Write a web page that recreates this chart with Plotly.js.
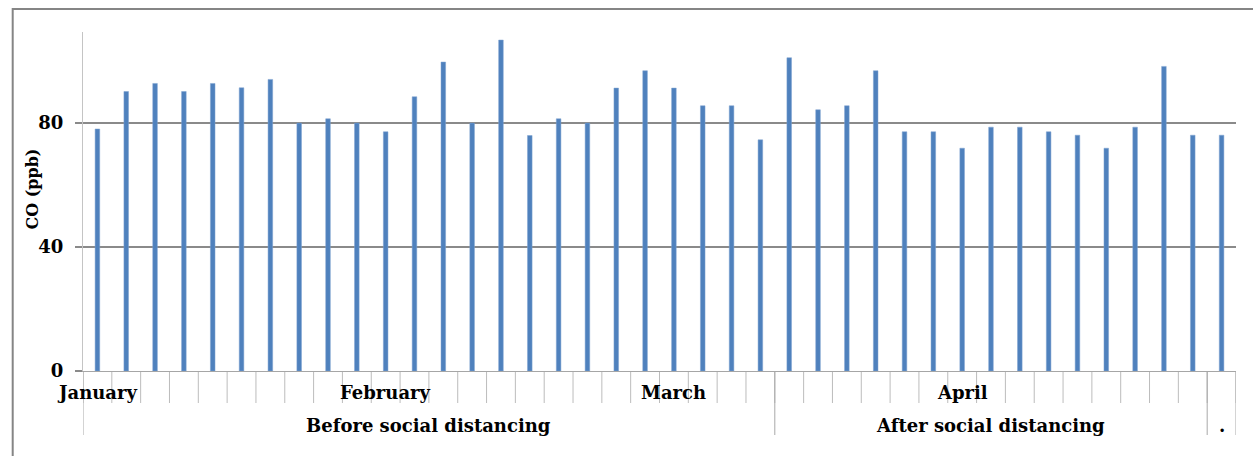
<!DOCTYPE html>
<html>
<head>
<meta charset="utf-8">
<script src="https://cdn.plot.ly/plotly-3.0.1.min.js"></script>
<style>
  html, body { margin: 0; padding: 0; background: #ffffff; }
  #chart { width: 1253px; height: 456px; }
</style>
</head>
<body>
<div id="chart"></div>
<script>
// ---- data ----
const days = Array.from({length: 40}, (_, i) => i + 1);
const coValues = [
  78.1, 90.2, 92.8, 90.2, 92.8, 91.4, 94.1, 80.0, 81.4, 80.0,
  77.2, 88.5, 99.7, 80.0, 106.8, 76.0, 81.4, 80.0, 91.3, 96.9,
  91.3, 85.6, 85.6, 74.6, 101.1, 84.3, 85.6, 96.9, 77.2, 77.2,
  71.9, 78.7, 78.7, 77.2, 76.1, 71.9, 78.7, 98.3, 76.1, 76.1
];
const monthNames = ['January', 'February', 'March', 'April'];
const monthLabelAt = [1, 11, 21, 31];
const groupNames = ['Before social distancing', 'After social distancing', '.'];
const groupSizes = [24, 15, 1];
const yTicks = [0, 40, 80];
const yTitle = 'CO (ppb)';

// ---- styling ----
const FONT = 'DejaVu Serif, Liberation Serif, serif';
const M = {l: 83, r: 17, t: 32, b: 85};
const plotW = 1253 - M.l - M.r;
const plotH = 456 - M.t - M.b;
const px2py = p => -p / plotH;   // pixels below the x axis -> paper y

const shapes = [];
for (let i = 0; i <= days.length; i++) {
  shapes.push({type: 'line', xref: 'x', yref: 'paper',
    x0: i + 0.5, x1: i + 0.5, y0: 0, y1: px2py(32),
    line: {color: '#bcbcbc', width: 1}, layer: 'below'});
}
let acc = 0;
const groupBounds = [0];
groupSizes.forEach(s => { acc += s; groupBounds.push(acc); });
groupBounds.forEach(b => {
  shapes.push({type: 'line', xref: 'x', yref: 'paper',
    x0: b + 0.5, x1: b + 0.5, y0: 0, y1: px2py(64),
    line: {color: '#a8a8a8', width: 1}, layer: 'below'});
});
shapes.push({type: 'rect', xref: 'paper', yref: 'paper',
  x0: (12.7 - M.l) / plotW, x1: 1.5,
  y0: -0.6, y1: 1 + (M.t - 9) / plotH,
  line: {color: '#858585', width: 2}, layer: 'below'});

const annotations = [];
monthNames.forEach((m, i) => {
  annotations.push({text: m, xref: 'x', yref: 'paper', x: monthLabelAt[i], y: px2py(21),
    showarrow: false, xanchor: 'center', yanchor: 'middle',
    font: {family: FONT, size: 18, color: '#000', weight: 'bold'}});
});
groupNames.forEach((g, i) => {
  const start = groupBounds[i] + 1, end = groupBounds[i + 1];
  annotations.push({text: g, xref: 'x', yref: 'paper', x: (start + end) / 2, y: px2py(54),
    showarrow: false, xanchor: 'center', yanchor: 'middle',
    font: {family: FONT, size: 18, color: '#000', weight: 'bold'}});
});
annotations.push({text: yTitle, xref: 'paper', yref: 'paper',
  x: (32 - M.l) / plotW, y: (371 - 189.5) / plotH,
  showarrow: false, textangle: -90, xanchor: 'center', yanchor: 'middle',
  font: {family: FONT, size: 16, color: '#000', weight: 'bold'}});

const trace = {
  type: 'bar', x: days, y: coValues, width: 0.16,
  marker: {color: '#4f81bd', line: {color: '#7fa3d1', width: 0.5}},
  hoverinfo: 'y'
};

const layout = {
  width: 1253, height: 456,
  margin: M,
  paper_bgcolor: '#ffffff', plot_bgcolor: '#ffffff',
  showlegend: false,
  bargap: 0,
  xaxis: {range: [0.5, days.length + 0.5], showticklabels: false, ticks: '',
    showgrid: false, zeroline: false, showline: true, linecolor: '#a6a6a6', linewidth: 1,
    fixedrange: true},
  yaxis: {range: [0, 109.4], tickvals: yTicks, ticktext: yTicks.map(String),
    ticks: 'outside', ticklen: 7, tickwidth: 2, tickcolor: '#8a8a8a',
    showgrid: true, gridcolor: '#8a8a8a', gridwidth: 2,
    zeroline: false, showline: true, linecolor: '#c4c4c4', linewidth: 1,
    ticklabelstandoff: 8,
    tickfont: {family: FONT, size: 18, color: '#000', weight: 'bold'},
    fixedrange: true},
  shapes: shapes,
  annotations: annotations
};

Plotly.newPlot('chart', [trace], layout, {displayModeBar: false, staticPlot: true});
</script>
</body>
</html>
